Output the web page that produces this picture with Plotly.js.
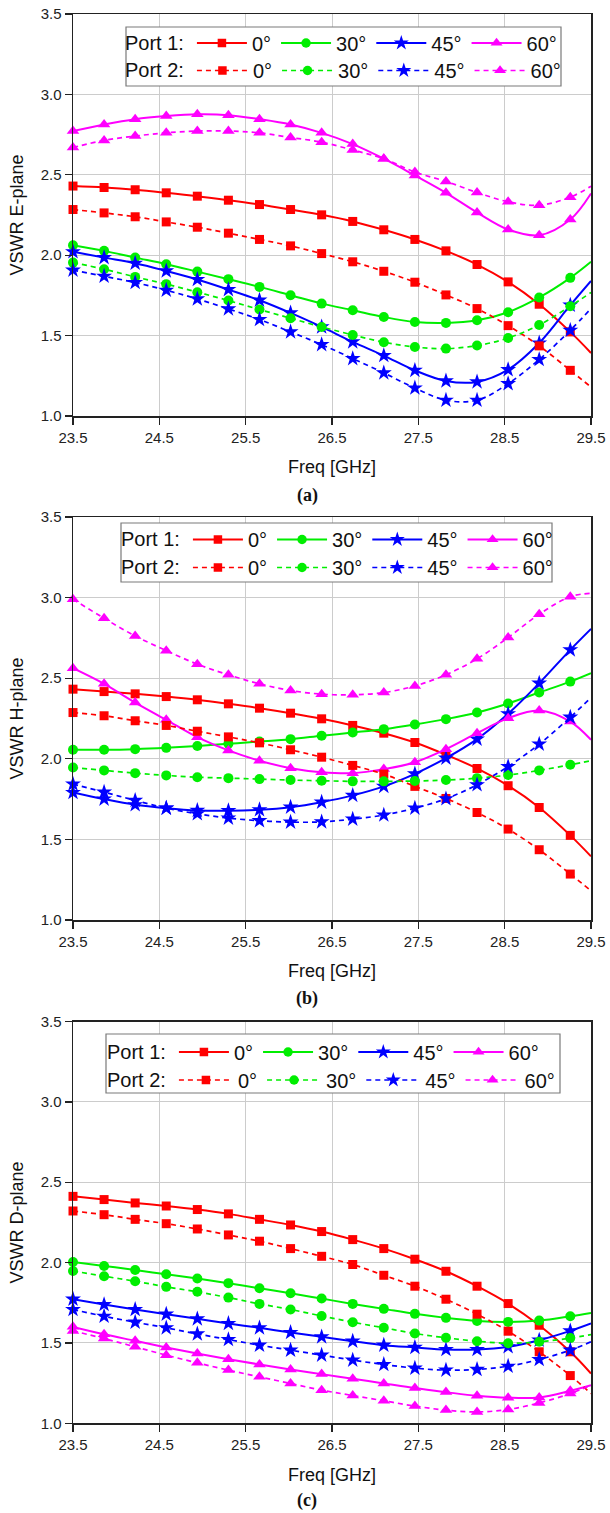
<!DOCTYPE html>
<html><head><meta charset="utf-8">
<script src="https://cdn.plot.ly/plotly-3.0.1.min.js"></script>
<style>html,body{margin:0;padding:0;background:#fff}#chart{width:610px;height:1513px}</style>
</head><body><div id="chart"></div>
<script>
// ---- data ----
const freq = [23.5, 23.86, 24.22, 24.58, 24.94, 25.3, 25.66, 26.02, 26.38, 26.74, 27.1, 27.46, 27.82, 28.18, 28.54, 28.9, 29.26, 29.5];
const angleLabels = ['0°', '30°', '45°', '60°'];
const portLabels = ['Port 1:', 'Port 2:'];
const panelLabels = ['(a)', '(b)', '(c)'];
const yTitles = ['VSWR E-plane', 'VSWR H-plane', 'VSWR D-plane'];
const xTitle = 'Freq [GHz]';
const xTicks = [23.5, 24.5, 25.5, 26.5, 27.5, 28.5, 29.5];
const yTicks = [1.0, 1.5, 2.0, 2.5, 3.0, 3.5];

// E-plane
const eP1_0  = [2.430, 2.421, 2.407, 2.388, 2.367, 2.342, 2.315, 2.284, 2.251, 2.210, 2.158, 2.098, 2.027, 1.942, 1.834, 1.695, 1.523, 1.392];
const eP1_30 = [2.062, 2.027, 1.985, 1.944, 1.898, 1.851, 1.803, 1.751, 1.699, 1.658, 1.616, 1.585, 1.579, 1.595, 1.645, 1.737, 1.859, 1.959];
const eP1_45 = [2.021, 1.985, 1.950, 1.902, 1.849, 1.786, 1.720, 1.641, 1.554, 1.461, 1.376, 1.284, 1.218, 1.212, 1.288, 1.454, 1.689, 1.840];
const eP1_60 = [2.772, 2.813, 2.846, 2.865, 2.876, 2.871, 2.846, 2.813, 2.761, 2.691, 2.600, 2.496, 2.388, 2.266, 2.160, 2.124, 2.222, 2.384];
const eP2_0  = [2.284, 2.263, 2.239, 2.207, 2.174, 2.137, 2.098, 2.058, 2.010, 1.959, 1.900, 1.832, 1.753, 1.668, 1.562, 1.436, 1.284, 1.180];
const eP2_30 = [1.954, 1.913, 1.865, 1.820, 1.770, 1.718, 1.662, 1.608, 1.554, 1.504, 1.459, 1.429, 1.419, 1.438, 1.485, 1.566, 1.683, 1.768];
const eP2_45 = [1.907, 1.869, 1.830, 1.782, 1.728, 1.666, 1.600, 1.523, 1.444, 1.357, 1.268, 1.174, 1.098, 1.098, 1.201, 1.351, 1.533, 1.668];
const eP2_60 = [2.670, 2.714, 2.741, 2.761, 2.772, 2.772, 2.761, 2.732, 2.703, 2.654, 2.600, 2.517, 2.459, 2.390, 2.332, 2.311, 2.361, 2.429];
// H-plane
const hP1_0  = [2.432, 2.417, 2.403, 2.386, 2.366, 2.341, 2.314, 2.283, 2.248, 2.207, 2.159, 2.101, 2.025, 1.940, 1.833, 1.698, 1.525, 1.395];
const hP1_30 = [2.056, 2.056, 2.060, 2.068, 2.079, 2.093, 2.107, 2.122, 2.143, 2.163, 2.184, 2.213, 2.246, 2.287, 2.343, 2.411, 2.479, 2.531];
const hP1_45 = [1.791, 1.750, 1.715, 1.694, 1.680, 1.678, 1.684, 1.700, 1.731, 1.773, 1.829, 1.907, 2.004, 2.122, 2.279, 2.469, 2.676, 2.806];
const hP1_60 = [2.562, 2.465, 2.349, 2.242, 2.134, 2.052, 1.988, 1.942, 1.917, 1.911, 1.936, 1.979, 2.060, 2.159, 2.252, 2.300, 2.231, 2.118];
const hP2_0  = [2.287, 2.267, 2.236, 2.207, 2.171, 2.136, 2.099, 2.056, 2.010, 1.959, 1.905, 1.829, 1.754, 1.667, 1.564, 1.436, 1.285, 1.182];
const hP2_30 = [1.946, 1.928, 1.911, 1.897, 1.886, 1.880, 1.874, 1.868, 1.864, 1.860, 1.860, 1.862, 1.868, 1.880, 1.899, 1.928, 1.963, 1.988];
const hP2_45 = [1.843, 1.793, 1.742, 1.694, 1.659, 1.632, 1.616, 1.607, 1.609, 1.626, 1.651, 1.694, 1.752, 1.839, 1.952, 2.091, 2.258, 2.380];
const hP2_60 = [2.990, 2.872, 2.762, 2.671, 2.587, 2.521, 2.465, 2.424, 2.401, 2.397, 2.411, 2.452, 2.521, 2.620, 2.752, 2.897, 3.006, 3.027];
// D-plane
const dP1_0  = [2.412, 2.392, 2.371, 2.352, 2.330, 2.303, 2.269, 2.234, 2.193, 2.143, 2.087, 2.021, 1.946, 1.853, 1.745, 1.610, 1.445, 1.310];
const dP1_30 = [2.004, 1.979, 1.954, 1.927, 1.901, 1.872, 1.840, 1.809, 1.776, 1.743, 1.712, 1.681, 1.656, 1.637, 1.631, 1.639, 1.666, 1.687];
const dP1_45 = [1.772, 1.739, 1.708, 1.679, 1.650, 1.621, 1.594, 1.565, 1.538, 1.511, 1.486, 1.472, 1.459, 1.459, 1.476, 1.517, 1.575, 1.621];
const dP1_60 = [1.600, 1.554, 1.513, 1.472, 1.434, 1.399, 1.366, 1.335, 1.306, 1.277, 1.248, 1.219, 1.194, 1.171, 1.159, 1.161, 1.202, 1.237];
const dP2_0  = [2.321, 2.298, 2.269, 2.242, 2.209, 2.172, 2.133, 2.087, 2.039, 1.988, 1.921, 1.853, 1.772, 1.679, 1.573, 1.445, 1.297, 1.185];
const dP2_30 = [1.948, 1.915, 1.884, 1.849, 1.818, 1.782, 1.743, 1.708, 1.668, 1.629, 1.594, 1.559, 1.532, 1.511, 1.498, 1.507, 1.530, 1.552];
const dP2_45 = [1.708, 1.666, 1.629, 1.594, 1.556, 1.521, 1.486, 1.455, 1.424, 1.393, 1.366, 1.343, 1.331, 1.335, 1.355, 1.397, 1.455, 1.507];
const dP2_60 = [1.575, 1.527, 1.476, 1.424, 1.376, 1.331, 1.289, 1.248, 1.206, 1.173, 1.140, 1.107, 1.082, 1.071, 1.086, 1.127, 1.185, 1.237];

// ---- styling / layout ----
const W = 610, H = 1513;
const FONT = 'Liberation Sans, Arial, sans-serif';
const px = v => v / W;
const py = v => 1 - v / H;
const colors = ['#ff0000', '#00ee00', '#0000ff', '#ff00ff'];
const symbols = ['square', 'circle', 'star', 'triangle-up'];
const msizes = [9, 10, 12, 11];

const panels = [
  {series: [[eP1_0, eP1_30, eP1_45, eP1_60], [eP2_0, eP2_30, eP2_45, eP2_60]], top: 14, bot: 416,
   legY: [43, 70.5], legX: 123, itemW: [50, 51], box: [126, 27, 561, 86], labY: 495.5},
  {series: [[hP1_0, hP1_30, hP1_45, hP1_60], [hP2_0, hP2_30, hP2_45, hP2_60]], top: 517, bot: 920,
   legY: [539.5, 567.5], legX: 119, itemW: [50, 50], box: [121, 523, 552, 582], labY: 998},
  {series: [[dP1_0, dP1_30, dP1_45, dP1_60], [dP2_0, dP2_30, dP2_45, dP2_60]], top: 1021.5, bot: 1423.3,
   legY: [1052, 1080], legX: 105, itemW: [50, 54], box: [106, 1034, 560, 1093], labY: 1500.5}
];
const plotL = 73, plotR = 591;

const traces = [];
const layout = {
  width: W, height: H, margin: {l: 0, r: 0, t: 0, b: 0},
  paper_bgcolor: '#fff', plot_bgcolor: '#fff',
  font: {family: FONT, color: '#111'},
  showlegend: true, shapes: [], annotations: []
};

panels.forEach((p, pi) => {
  const sfx = pi === 0 ? '' : String(pi + 1);
  p.series.forEach((rowSeries, port) => {
    const legName = 'legend' + (pi * 2 + port === 0 ? '' : String(pi * 2 + port + 1));
    rowSeries.forEach((ys, ai) => {
      traces.push({
        type: 'scatter', mode: 'lines+markers', x: freq, y: ys,
        xaxis: 'x' + sfx, yaxis: 'y' + sfx, name: angleLabels[ai], legend: legName,
        line: {color: colors[ai], width: port === 0 ? 2 : 1.7, dash: port === 0 ? 'solid' : '5px,4px', shape: 'spline', smoothing: 1},
        marker: {symbol: symbols[ai], color: colors[ai], opacity: 1,
                 size: freq.map((f, i) => i < freq.length - 1 ? msizes[ai] : 0), line: {width: 0}},
        cliponaxis: false, hoverinfo: 'skip'
      });
    });
    layout[legName] = {
      orientation: 'h', x: px(p.legX), y: py(p.legY[port]), xanchor: 'left', yanchor: 'middle',
      bgcolor: 'rgba(0,0,0,0)', borderwidth: 0, itemwidth: p.itemW[port], traceorder: 'normal',
      font: {family: FONT, size: 20, color: '#111'},
      title: {text: portLabels[port], side: 'left', font: {family: FONT, size: 20, color: '#111'}},
      itemclick: false, itemdoubleclick: false
    };
  });
  const axCommon = {
    showline: true, linecolor: '#222', linewidth: 1.5, mirror: true,
    ticks: 'outside', ticklen: 7, tickwidth: 1.3, tickcolor: '#222',
    showgrid: true, gridcolor: '#cccccc', gridwidth: 1, zeroline: false,
    tickfont: {family: FONT, size: 15, color: '#222'}, fixedrange: true
  };
  layout['xaxis' + sfx] = Object.assign({}, axCommon, {
    domain: [px(plotL), px(plotR)], anchor: 'y' + sfx, range: [23.5, 29.5],
    tickmode: 'array', tickvals: xTicks, ticktext: xTicks.map(v => v.toFixed(1)),
    title: {text: xTitle, font: {family: FONT, size: 18, color: '#111'}, standoff: 16}
  });
  layout['yaxis' + sfx] = Object.assign({}, axCommon, {
    domain: [py(p.bot), py(p.top)], anchor: 'x' + sfx, range: [1, 3.5],
    tickmode: 'array', tickvals: yTicks, ticktext: yTicks.map(v => v.toFixed(1)),
    title: {text: yTitles[pi], font: {family: FONT, size: 18, color: '#111'}, standoff: 12}
  });
  layout.shapes.push({type: 'rect', xref: 'paper', yref: 'paper', layer: 'above',
    x0: px(p.box[0]), x1: px(p.box[2]), y0: py(p.box[3]), y1: py(p.box[1]),
    fillcolor: '#ffffff', line: {color: '#7a7a7a', width: 1.2}});
  layout.annotations.push({text: panelLabels[pi], xref: 'paper', yref: 'paper', x: px(307), y: py(p.labY),
    xanchor: 'center', yanchor: 'middle', showarrow: false,
    font: {family: 'Liberation Serif, Times New Roman, serif', size: 18, color: '#111', weight: 'bold'}});
});

Plotly.newPlot('chart', traces, layout, {staticPlot: true, displayModeBar: false});
</script>
</body></html>
